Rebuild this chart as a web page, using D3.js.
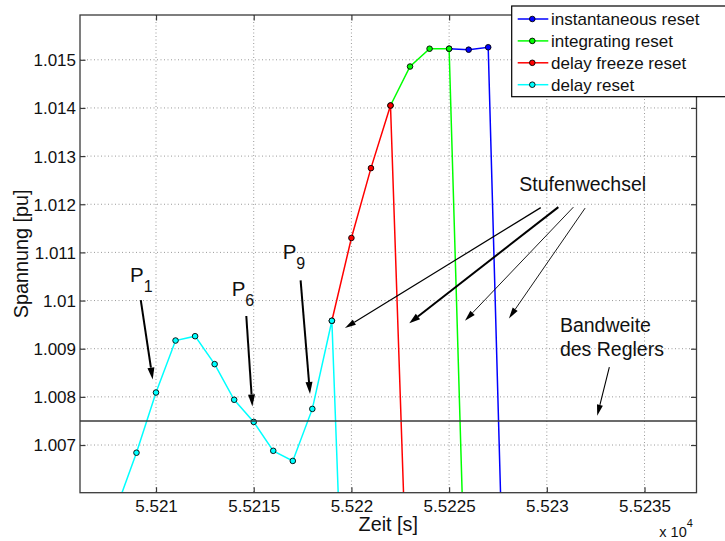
<!DOCTYPE html>
<html>
<head>
<meta charset="utf-8">
<script src="https://cdn.jsdelivr.net/npm/d3@7"></script>
<style>
  body { margin: 0; background: #fff; }
  svg { display: block; }
  text { font-family: "Liberation Sans", Arial, Helvetica, sans-serif; fill: #111; }
</style>
</head>
<body>
<svg id="chart" width="725" height="541"></svg>
<script>
// Sample times [s] (one sample per second)
const times = [55208, 55209, 55210, 55211, 55212, 55213, 55214, 55215, 55216, 55217,
               55218, 55219, 55220, 55221, 55222, 55223, 55224, 55225, 55226, 55227, 55228];

// Voltage [pu] per reset strategy; each series ends with the tap change
const instantaneousReset = [1.00572, 1.00684, 1.00809, 1.00917, 1.00926, 1.00868, 1.00794, 1.00748,
                            1.00688, 1.00667, 1.00775, 1.00958, 1.01130, 1.01275, 1.01405, 1.01486,
                            1.01523, 1.01523, 1.01521, 1.01526, 1.00060];
const integratingReset   = [1.00572, 1.00684, 1.00809, 1.00917, 1.00926, 1.00868, 1.00794, 1.00748,
                            1.00688, 1.00667, 1.00775, 1.00958, 1.01130, 1.01275, 1.01405, 1.01486,
                            1.01523, 1.01523, 1.00139];
const delayFreezeReset   = [1.00572, 1.00684, 1.00809, 1.00917, 1.00926, 1.00868, 1.00794, 1.00748,
                            1.00688, 1.00667, 1.00775, 1.00958, 1.01130, 1.01275, 1.01405, 1.00199];
const delayReset         = [1.00572, 1.00684, 1.00809, 1.00917, 1.00926, 1.00868, 1.00794, 1.00748,
                            1.00688, 1.00667, 1.00775, 1.00958, 0.99852];

const seriesNames  = ["instantaneous reset", "integrating reset", "delay freeze reset", "delay reset"];
const seriesValues = [instantaneousReset, integratingReset, delayFreezeReset, delayReset];
const seriesColors = ["#0000ff", "#00ff00", "#ff0000", "#00ffff"];

// Controller dead band limit
const bandwidth = 1.0075;

// Axis ticks
const xTicks = [55210, 55215, 55220, 55225, 55230, 55235];
const yTicks = [1.007, 1.008, 1.009, 1.010, 1.011, 1.012, 1.013, 1.014, 1.015];
const xDomain = [55206.11, 55237.66];
const yDomain = [1.00601, 1.01593];

// Annotation arrows in data units: [t0, v0, t1, v1, width]
const pointArrows = [
  [55209.22, 1.01001, 55209.83, 1.00836, 2],
  [55214.62, 1.00968, 55214.93, 1.00780, 2],
  [55217.40, 1.01042, 55217.88, 1.00806, 2]
];
const pointLabels = [["1", 55208.67, 1.01039], ["6", 55213.87, 1.01009], ["9", 55216.48, 1.01086]];
const stepArrows = [
  [55229.69, 1.01193, 55219.67, 1.00943, 1.2],
  [55230.59, 1.01194, 55222.96, 1.00953, 2.0],
  [55231.36, 1.01194, 55225.81, 1.00958, 0.9],
  [55231.96, 1.01192, 55228.06, 1.00963, 0.9]
];
const bandArrow = [55233.20, 1.00862, 55232.58, 1.00761, 1.1];

const svg = d3.select("#chart");
const plotL = 80, plotT = 15, plotR = 696.5, plotB = 492.7;

const x = d3.scaleLinear().domain(xDomain).range([plotL, plotR]);
const y = d3.scaleLinear().domain(yDomain).range([plotB, plotT]);

svg.append("rect").attr("width", 725).attr("height", 541).attr("fill", "#fff");

svg.append("defs").append("clipPath").attr("id", "plotClip")
  .append("rect").attr("x", plotL).attr("y", plotT).attr("width", plotR - plotL).attr("height", plotB - plotT);

// Dotted grid
const grid = svg.append("g").attr("stroke", "#9a9a9a").attr("stroke-width", 1)
  .attr("stroke-dasharray", "1,2.5");
grid.selectAll(".gx").data(xTicks).join("line").attr("class", "gx")
  .attr("x1", d => x(d)).attr("x2", d => x(d)).attr("y1", plotT).attr("y2", plotB);
grid.selectAll(".gy").data(yTicks).join("line").attr("class", "gy")
  .attr("y1", d => y(d)).attr("y2", d => y(d)).attr("x1", plotL).attr("x2", plotR);

// Axes with inward ticks on all four sides
const axisColor = "#3a3a3a";
function styleAxis(g) {
  g.select(".domain").remove();
  g.selectAll(".tick line").attr("stroke", axisColor).attr("stroke-width", 1.2);
  g.selectAll(".tick text").attr("fill", "#222").style("font-size", "17px");
}
svg.append("g").attr("transform", `translate(0,${plotB})`)
  .call(d3.axisBottom(x).tickValues(xTicks).tickSizeInner(-5.5).tickSizeOuter(0)
        .tickFormat(d => String(+(d / 1e4).toFixed(5))))
  .call(styleAxis)
  .call(g => g.selectAll(".tick text").attr("y", 19.3).attr("dy", null));
svg.append("g").attr("transform", `translate(0,${plotT})`)
  .call(d3.axisTop(x).tickValues(xTicks).tickSizeInner(-5.5).tickSizeOuter(0).tickFormat(""))
  .call(styleAxis);
svg.append("g").attr("transform", `translate(${plotL},0)`)
  .call(d3.axisLeft(y).tickValues(yTicks).tickSizeInner(-5.5).tickSizeOuter(0)
        .tickFormat(d => String(+d.toFixed(3))))
  .call(styleAxis)
  .call(g => g.selectAll(".tick text").attr("x", -4).attr("dy", "0.35em"));
svg.append("g").attr("transform", `translate(${plotR},0)`)
  .call(d3.axisRight(y).tickValues(yTicks).tickSizeInner(-5.5).tickSizeOuter(0).tickFormat(""))
  .call(styleAxis);

// Data lines and markers, clipped to the plot area.
// Series are stacked (later ones on top); each one is only drawn from the
// sample before it departs from the series drawn above it, so shared
// stretches show a single clean line.
const plot = svg.append("g").attr("clip-path", "url(#plotClip)");
const line = d3.line().x(d => x(d[0])).y(d => y(d[1]));
seriesValues.forEach((vals, i) => {
  let start = 0;
  const above = seriesValues[i + 1];
  if (above) {
    let k = 0;
    while (k < above.length && above[k] === vals[k]) k++;
    start = Math.max(0, k - 1);
  }
  const pts = vals.map((v, k) => [times[k], v]).slice(start);
  const g = plot.append("g");
  g.append("path").datum(pts).attr("d", line).attr("fill", "none")
    .attr("stroke", seriesColors[i]).attr("stroke-width", 1.5);
  g.selectAll("circle").data(pts.slice(0, -1)).join("circle")
    .attr("cx", d => x(d[0])).attr("cy", d => y(d[1])).attr("r", 2.8)
    .attr("fill", seriesColors[i]).attr("stroke", "#000").attr("stroke-width", 0.9);
});

// Dead band line
svg.append("line").attr("x1", plotL).attr("x2", plotR)
  .attr("y1", y(bandwidth)).attr("y2", y(bandwidth))
  .attr("stroke", axisColor).attr("stroke-width", 1.4);

// Axes box
svg.append("rect").attr("x", plotL).attr("y", plotT).attr("width", plotR - plotL).attr("height", plotB - plotT)
  .attr("fill", "none").attr("stroke", axisColor).attr("stroke-width", 1.3);

// Arrow helper
function arrow(a, headLen, headW) {
  const [t0, v0, t1, v1, w] = a;
  const x0 = x(t0), y0 = y(v0), x1 = x(t1), y1 = y(v1);
  const ang = Math.atan2(y1 - y0, x1 - x0);
  const bx = x1 - headLen * Math.cos(ang), by = y1 - headLen * Math.sin(ang);
  svg.append("line").attr("x1", x0).attr("y1", y0).attr("x2", bx).attr("y2", by)
    .attr("stroke", "#000").attr("stroke-width", w);
  const px = -Math.sin(ang) * headW / 2, py = Math.cos(ang) * headW / 2;
  svg.append("path")
    .attr("d", `M${x1},${y1}L${bx + px},${by + py}L${bx - px},${by - py}Z`)
    .attr("fill", "#000");
}
pointArrows.forEach(a => arrow(a, 12, 7));
stepArrows.forEach(a => arrow(a, 11, a[4] > 1.5 ? 7 : 6));
arrow(bandArrow, 11, 6);

// P labels with subscripts
pointLabels.forEach(([sub, t, v]) => {
  const tx = svg.append("text").attr("x", x(t)).attr("y", y(v)).style("font-size", "20.5px");
  tx.append("tspan").text("P");
  tx.append("tspan").attr("dy", 10).style("font-size", "16px").text(sub);
});

svg.append("text").attr("x", x(55228.59)).attr("y", y(1.01228)).style("font-size", "19.5px")
  .text("Stufenwechsel");
const bw = svg.append("text").attr("x", x(55230.67)).attr("y", y(1.00934)).style("font-size", "19.5px");
bw.append("tspan").attr("x", x(55230.67)).text("Bandweite");
bw.append("tspan").attr("x", x(55230.67)).attr("dy", 23.8).text("des Reglers");

// Axis titles
svg.append("text").attr("x", (plotL + plotR) / 2).attr("y", 531).attr("text-anchor", "middle")
  .style("font-size", "19.8px").text("Zeit [s]");
svg.append("text").attr("transform", `translate(27.6,${(plotT + plotB) / 2}) rotate(-90)`)
  .attr("text-anchor", "middle").style("font-size", "19.8px").text("Spannung [pu]");
const ex = svg.append("text").attr("x", 659.3).attr("y", 536.7).style("font-size", "14.5px").attr("fill", "#222");
ex.append("tspan").text("x 10");
ex.append("tspan").attr("dy", -9.5).style("font-size", "11px").text("4");

// Legend
const lg = svg.append("g");
lg.append("rect").attr("x", 511.7).attr("y", 6).attr("width", 230).attr("height", 90.7)
  .attr("fill", "#fff").attr("stroke", "#000").attr("stroke-width", 1.2);
seriesNames.forEach((name, i) => {
  const cy = 19 + i * 21.9;
  lg.append("line").attr("x1", 517.7).attr("x2", 548.3).attr("y1", cy).attr("y2", cy)
    .attr("stroke", seriesColors[i]).attr("stroke-width", 1.5);
  lg.append("circle").attr("cx", 532.3).attr("cy", cy).attr("r", 2.8)
    .attr("fill", seriesColors[i]).attr("stroke", "#000").attr("stroke-width", 0.9);
  lg.append("text").attr("x", 551).attr("y", cy).attr("dy", "0.35em")
    .style("font-size", "17px").text(name);
});
</script>
</body>
</html>
